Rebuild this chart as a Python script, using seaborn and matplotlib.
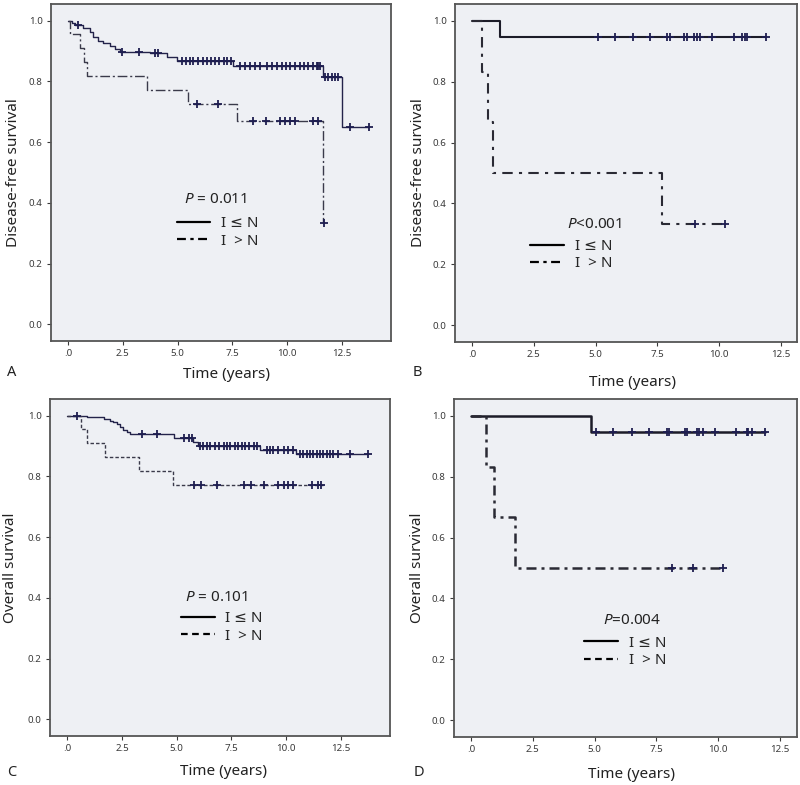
import numpy as np
import pandas as pd
import matplotlib
matplotlib.use('Agg')
import matplotlib.pyplot as plt
from matplotlib.lines import Line2D
import seaborn as sns

##################### Data #####################
# Panel A: disease-free survival
a_le_time = [0, 0.17, 0.32, 0.7, 1.0, 1.16, 1.38, 1.6, 1.92, 2.15, 2.37, 3.74, 4.5, 4.96, 7.55, 11.63, 12.5]
a_le_surv = [1.0, 0.993, 0.985, 0.977, 0.963, 0.947, 0.932, 0.925, 0.916, 0.908, 0.897, 0.892, 0.881, 0.867, 0.852, 0.813, 0.65]
a_le_cens = [0.45, 2.45, 3.24, 3.97, 4.1, 5.19, 5.39, 5.57, 5.72, 5.95, 6.15, 6.33, 6.52, 6.71, 6.91, 7.1, 7.27, 7.43,
             7.85, 8.08, 8.31, 8.54, 8.77, 9.1, 9.3, 9.53, 9.76, 9.95, 10.14, 10.37, 10.59, 10.78, 10.97, 11.17, 11.36,
             11.43, 11.51, 11.74, 11.89, 12.04, 12.19, 12.34, 12.9, 13.75]
a_le_end = 13.75
a_gt_time = [0, 0.1, 0.55, 0.75, 0.85, 3.6, 5.5, 7.7, 11.63]
a_gt_surv = [1.0, 0.955, 0.909, 0.864, 0.818, 0.773, 0.727, 0.67, 0.335]
a_gt_cens = [5.88, 6.86, 8.46, 9.03, 9.68, 9.91, 10.14, 10.37, 11.2, 11.43, 11.68]
a_gt_end = 11.68

# Panel B: disease-free survival (subgroup)
b_le_time = [0, 1.15]
b_le_surv = [1.0, 0.947]
b_le_cens = [5.1, 5.8, 6.5, 7.2, 7.9, 8.0, 8.6, 8.7, 9.0, 9.1, 9.25, 9.7, 10.6, 10.95, 11.05, 11.15, 11.9]
b_le_end = 11.9
b_gt_time = [0, 0.39, 0.66, 0.84, 7.7]
b_gt_surv = [1.0, 0.833, 0.667, 0.5, 0.333]
b_gt_cens = [9.03, 10.25]
b_gt_end = 10.25

# Panel C: overall survival
c_le_time = [0, 0.9, 1.66, 1.95, 2.1, 2.25, 2.4, 2.55, 2.7, 2.88, 4.85, 5.75, 5.95, 8.8, 10.44]
c_le_surv = [1.0, 0.995, 0.99, 0.984, 0.978, 0.972, 0.962, 0.952, 0.945, 0.939, 0.925, 0.912, 0.899, 0.887, 0.873]
c_le_cens = [0.44, 3.4, 4.1, 5.31, 5.54, 5.69, 6.07, 6.22, 6.38, 6.53, 6.76, 6.91, 7.14, 7.29, 7.44, 7.67, 7.82,
             7.98, 8.13, 8.28, 8.51, 8.69, 9.12, 9.27, 9.42, 9.65, 9.88, 10.1, 10.33, 10.64, 10.79, 10.95, 11.1,
             11.25, 11.4, 11.55, 11.7, 11.86, 12.0, 12.16, 12.39, 12.92, 13.76]
c_le_end = 13.76
c_gt_time = [0, 0.6, 0.9, 1.73, 3.25, 4.82]
c_gt_surv = [1.0, 0.955, 0.909, 0.864, 0.818, 0.773]
c_gt_cens = [5.8, 6.1, 6.85, 8.05, 8.4, 9.0, 9.65, 9.9, 10.1, 10.3, 11.2, 11.45, 11.6]
c_gt_end = 11.7

# Panel D: overall survival (subgroup)
d_le_time = [0, 4.85]
d_le_surv = [1.0, 0.947]
d_le_cens = [5.08, 5.76, 6.5, 7.2, 7.92, 8.02, 8.66, 8.76, 9.14, 9.23, 9.4, 9.88, 10.75, 11.16, 11.22, 11.36, 11.9]
d_le_end = 11.9
d_gt_time = [0, 0.61, 0.94, 1.78]
d_gt_surv = [1.0, 0.833, 0.667, 0.5]
d_gt_cens = [8.12, 9.0, 10.2]
d_gt_end = 10.2

x_ticks = [0, 2.5, 5.0, 7.5, 10.0, 12.5]
x_tick_labels = ['.0', '2.5', '5.0', '7.5', '10.0', '12.5']
y_ticks = [0.0, 0.2, 0.4, 0.6, 0.8, 1.0]
y_tick_labels = ['0.0', '0.2', '0.4', '0.6', '0.8', '1.0']
group_labels = ['I ≤ N', 'I  > N']

##################### Style #################################
sns.set_style('white')
plt.rcParams['font.family'] = ['Noto Sans', 'DejaVu Sans']
plt.rcParams['mathtext.fontset'] = 'custom'
plt.rcParams['mathtext.it'] = 'Noto Sans:italic'
plt.rcParams['mathtext.rm'] = 'Noto Sans'

LINE_C = '#23234a'
FACE_C = '#eef0f4'

def step_frame(times, surv, end):
    t = list(times) + [end]
    s = list(surv) + [surv[-1]]
    return pd.DataFrame({'time': t, 'surv': s})

def draw_km(ax, times, surv, end, cens, lw, ls, color=LINE_C, msize=34):
    df = step_frame(times, surv, end)
    sns.lineplot(data=df, x='time', y='surv', ax=ax, drawstyle='steps-post', estimator=None,
                 sort=False, color=color, lw=lw, linestyle=ls)
    idx = np.searchsorted(np.array(times), np.array(cens), side='right') - 1
    cy = np.array(surv)[idx]
    sns.scatterplot(x=cens, y=cy, ax=ax, marker='+', s=msize, color='#1e1e50', linewidth=1.3, zorder=3)

def style_axes(ax, xmax, xmin, ylabel):
    ax.set_facecolor(FACE_C)
    for sp in ax.spines.values():
        sp.set_color('#555555')
        sp.set_linewidth(1.3)
    ax.set_xlim(xmin, xmax)
    ax.set_ylim(-0.055, 1.055)
    ax.set_xticks(x_ticks)
    ax.set_xticklabels(x_tick_labels)
    ax.set_yticks(y_ticks)
    ax.set_yticklabels(y_tick_labels)
    ax.tick_params(direction='out', length=3, width=0.8, colors='#3a3a3a', labelsize=7,
                   bottom=True, left=True, top=False, right=False, pad=3)
    ax.set_ylabel(ylabel, fontsize=11, color='#222222')
    ax.set_xlabel('Time (years)', fontsize=11, color='#222222')
    ax.xaxis.label.set_va('center')
    ax.yaxis.label.set_va('center')

def add_legend(ax, style_gt, lw, x, y, p_text, px, py):
    ax.text(px, py, p_text, transform=ax.transAxes, ha='center', va='center', fontsize=11, color='#222222')
    handles = [Line2D([], [], color='black', lw=1.6, linestyle='-'),
               Line2D([], [], color='black', lw=lw, linestyle=style_gt)]
    ax.legend(handles, group_labels, loc='upper left', bbox_to_anchor=(x, y), frameon=False,
              fontsize=11, handlelength=2.2, handletextpad=0.7, labelspacing=0.15, borderpad=0,
              borderaxespad=0)

##################### Figure #################################
fig = plt.figure(figsize=(8.0, 7.85), dpi=100)
H = 785.0
W = 800.0
ax_a = fig.add_axes([51 / W, 1 - 341 / H, 340 / W, 337 / H])
ax_b = fig.add_axes([455 / W, 1 - 342 / H, 342 / W, 338 / H])
ax_c = fig.add_axes([50 / W, 1 - 736 / H, 340 / W, 337 / H])
ax_d = fig.add_axes([454 / W, 1 - 737 / H, 343 / W, 338 / H])

# A
draw_km(ax_a, a_le_time, a_le_surv, a_le_end, a_le_cens, 1.0, '-')
draw_km(ax_a, a_gt_time, a_gt_surv, a_gt_end, a_gt_cens, 1.0, (0, (7, 2, 1.5, 2)), color='#3a3a4a')
style_axes(ax_a, 14.75, -0.78, 'Disease-free survival')
add_legend(ax_a, (0, (4, 2, 1.5, 2)), 1.6, 0.37, 0.37, '$P$ = 0.011', 0.485, 0.421)

# B
draw_km(ax_b, b_le_time, b_le_surv, b_le_end, b_le_cens, 1.5, '-', color='#1c1c28')
draw_km(ax_b, b_gt_time, b_gt_surv, b_gt_end, b_gt_cens, 1.5, (0, (5, 3, 1.5, 3)), color='#2a2a34')
style_axes(ax_b, 13.16, -0.69, 'Disease-free survival')
add_legend(ax_b, (0, (4, 2, 1.5, 2)), 1.6, 0.22, 0.305, '$P$<0.001', 0.409, 0.349)

# C
draw_km(ax_c, c_le_time, c_le_surv, c_le_end, c_le_cens, 1.0, '-')
draw_km(ax_c, c_gt_time, c_gt_surv, c_gt_end, c_gt_cens, 1.0, (0, (2.5, 1.5)), color='#3a3a4a')
style_axes(ax_c, 14.75, -0.80, 'Overall survival')
add_legend(ax_c, (0, (3, 2)), 1.6, 0.385, 0.37, '$P$ = 0.101', 0.491, 0.412)

# D
draw_km(ax_d, d_le_time, d_le_surv, d_le_end, d_le_cens, 1.8, '-', color='#1c1c28')
draw_km(ax_d, d_gt_time, d_gt_surv, d_gt_end, d_gt_cens, 1.8, (0, (4, 2, 1.2, 2)), color='#2a2a34')
style_axes(ax_d, 13.2, -0.69, 'Overall survival')
add_legend(ax_d, (0, (3, 2)), 1.6, 0.38, 0.30, '$P$=0.004', 0.519, 0.346)

# label positions (axes fraction)
ax_a.xaxis.set_label_coords(0.515, -0.10)
ax_a.yaxis.set_label_coords(-0.11, 0.5)
ax_b.xaxis.set_label_coords(0.518, -0.12)
ax_b.yaxis.set_label_coords(-0.108, 0.5)
ax_c.xaxis.set_label_coords(0.51, -0.104)
ax_c.yaxis.set_label_coords(-0.115, 0.5)
ax_d.xaxis.set_label_coords(0.518, -0.11)
ax_d.yaxis.set_label_coords(-0.105, 0.5)

for lab, (px, py) in zip('ABCD', [(12, 372), (417, 372), (12, 773), (419, 772)]):
    fig.text(px / W, 1 - py / H, lab, fontsize=10.5, ha='center', va='center', color='#222222')

fig.savefig('out.png', dpi=100, facecolor='white')
